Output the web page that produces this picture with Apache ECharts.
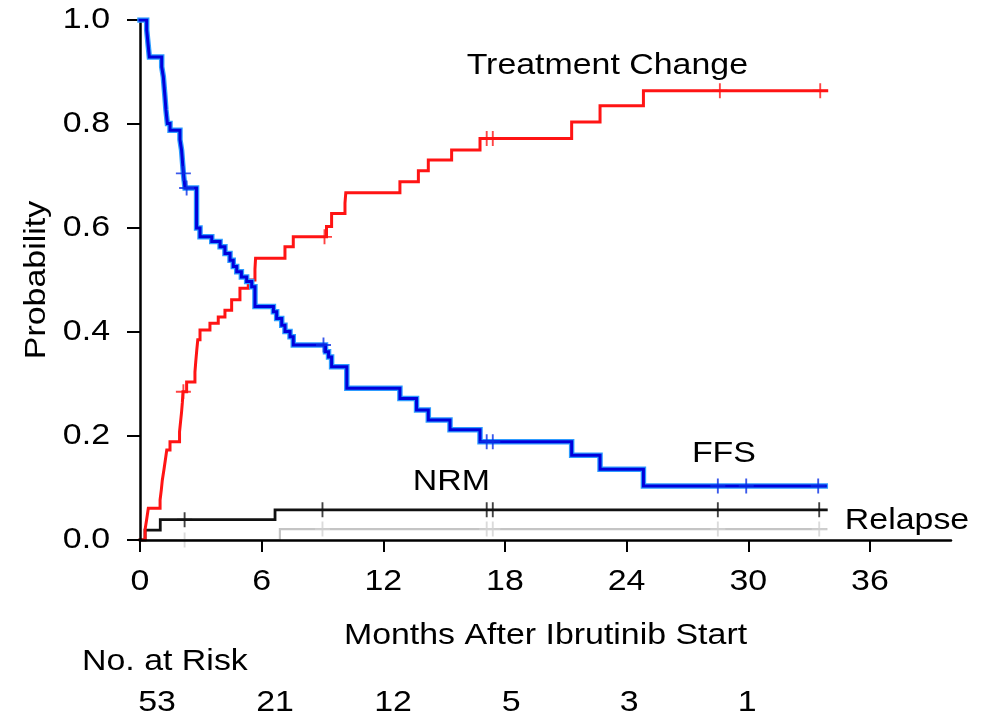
<!DOCTYPE html>
<html>
<head>
<meta charset="utf-8">
<script src="https://cdn.jsdelivr.net/npm/echarts@6/dist/echarts.min.js"></script>
<style>
  html, body { margin: 0; padding: 0; background: #fff; }
  #chart { width: 992px; height: 718px; }
</style>
</head>
<body>
<div id="chart"></div>
<script>
// Freedom from failure (FFS), cumulative incidence of treatment change,
// non-relapse mortality (NRM) and relapse after ibrutinib start.
const xTicks = [0, 6, 12, 18, 24, 30, 36];
const yTicks = [0, 0.2, 0.4, 0.6, 0.8, 1.0];

const ffsTime = [0, 0.33, 0.41, 0.46, 1.07, 1.15, 1.23, 1.28, 1.35, 1.48,
  1.97, 2.05, 2.14, 2.22, 2.79, 2.96, 3.54, 3.95, 4.19, 4.44,
  4.6, 4.77, 5.0, 5.26, 5.51, 5.67, 6.58, 6.74, 6.99, 7.15,
  7.4, 7.56, 9.15, 9.3, 9.45, 10.2, 12.82, 13.64, 14.22, 15.29,
  16.77, 21.29, 22.69, 24.83, 33.8];
const ffsProb = [1.0, 0.981, 0.949, 0.929, 0.91, 0.891, 0.853, 0.827, 0.801, 0.788,
  0.77, 0.75, 0.705, 0.677, 0.6, 0.583, 0.574, 0.564, 0.551, 0.538,
  0.526, 0.516, 0.506, 0.497, 0.487, 0.449, 0.439, 0.426, 0.413, 0.401,
  0.391, 0.375, 0.362, 0.352, 0.333, 0.292, 0.272, 0.25, 0.231, 0.212,
  0.189, 0.163, 0.136, 0.104, 0.104];
const ffsCensor = [2.14, 2.3, 9.05, 17.1, 17.4, 28.5, 29.9, 33.45];

const tcTime = [0, 0.25, 0.33, 0.41, 0.99, 1.05, 1.1, 1.18, 1.25, 1.32,
  1.48, 1.95, 2.0, 2.05, 2.09, 2.12, 2.3, 2.71, 2.75, 2.8,
  2.85, 2.96, 3.45, 3.86, 4.19, 4.52, 4.93, 5.34, 5.67, 5.7,
  7.15, 7.56, 9.2, 9.45, 10.11, 10.15, 12.82, 13.73, 14.22, 15.37,
  16.77, 21.29, 22.69, 24.83, 33.87];
const tcProb = [0, 0.02, 0.04, 0.061, 0.077, 0.096, 0.115, 0.135, 0.154, 0.173,
  0.189, 0.208, 0.227, 0.246, 0.265, 0.285, 0.304, 0.323, 0.343, 0.365,
  0.385, 0.404, 0.417, 0.429, 0.442, 0.462, 0.484, 0.5, 0.521, 0.542,
  0.564, 0.583, 0.603, 0.628, 0.648, 0.668, 0.689, 0.71, 0.731, 0.75,
  0.772, 0.804, 0.835, 0.864, 0.864];
const tcCensor = [2.14, 9.1, 17.1, 17.4, 28.6, 33.55];

const nrmTime = [0, 0.25, 1.0, 6.66, 33.85];
const nrmProb = [0, 0.019, 0.039, 0.058, 0.058];
const nrmCensor = [2.2, 9.0, 17.1, 17.4, 28.5, 33.5];

const relapseTime = [0, 6.9, 33.85];
const relapseProb = [0, 0.021, 0.021];
const relapseCensor = [2.2, 9.0, 17.1, 17.4, 28.5, 33.5];

const riskTimes = [0, 6, 12, 18, 24, 30];
const riskCounts = [53, 21, 12, 5, 3, 1];

const FONT = '"Liberation Sans", Arial, Helvetica, sans-serif';
const PLUS = 'path://M0,7L16,7L16,9L0,9Z M7,0L9,0L9,16L7,16Z';

function pairs(ts, vs) { return ts.map((t, i) => [t, vs[i]]); }
function stepValue(ts, vs, t) {
  let v = vs[0];
  for (let i = 0; i < ts.length; i++) { if (ts[i] <= t) v = vs[i]; }
  return v;
}
function censorPoints(ts, vs, cs) { return cs.map(c => [c, stepValue(ts, vs, c)]); }

function stepLine(name, ts, vs, color, width, z) {
  return {
    name, type: 'line', step: 'end', data: pairs(ts, vs),
    showSymbol: false, silent: true, z,
    lineStyle: { color, width, cap: 'square', join: 'miter' }
  };
}
function marks(ts, vs, cs, color, z) {
  return {
    type: 'scatter', data: censorPoints(ts, vs, cs), symbol: PLUS,
    symbolSize: 15, silent: true, z,
    itemStyle: { color }
  };
}

const chart = echarts.init(document.getElementById('chart'), null, { renderer: 'canvas' });

chart.setOption({
  animation: false,
  backgroundColor: '#ffffff',
  grid: { left: 140, right: 41, top: 20, bottom: 178 },
  xAxis: {
    type: 'value', min: 0, max: 40, z: 5,
    axisLine: { show: true, onZero: false, lineStyle: { color: '#000', width: 2.5 } },
    axisTick: { show: true, length: 12, customValues: xTicks, lineStyle: { color: '#000', width: 2 } },
    axisLabel: { show: false },
    splitLine: { show: false }
  },
  yAxis: {
    type: 'value', min: 0, max: 1, interval: 0.2, z: 5,
    axisLine: { show: true, onZero: false, lineStyle: { color: '#000', width: 2.5 } },
    axisTick: { show: true, length: 13, lineStyle: { color: '#000', width: 2 } },
    axisLabel: { show: false },
    splitLine: { show: false }
  },
  series: [
    stepLine('Relapse', relapseTime, relapseProb, '#c4c4c4', 2.2, 2),
    marks(relapseTime, relapseProb, relapseCensor, '#d2d2d2', 2),
    stepLine('NRM', nrmTime, nrmProb, '#111111', 2.8, 3),
    marks(nrmTime, nrmProb, nrmCensor, '#111111', 3),
    stepLine('Treatment Change', tcTime, tcProb, '#ff1414', 3, 4),
    marks(tcTime, tcProb, tcCensor, '#ff1414', 4),
    stepLine('FFS halo', ffsTime, ffsProb, '#2e9cff', 5.5, 6),
    stepLine('FFS', ffsTime, ffsProb, '#0000dc', 3, 7),
    marks(ffsTime, ffsProb, ffsCensor, '#0a2fe6', 7)
  ]
});

// Tick labels, curve labels and the risk table, placed through the axis scales
const px = (t, v) => chart.convertToPixel({ gridIndex: 0 }, [t, v]);
const SX = 1.13;
const DY = 2;
function label(text, x, y, align, extra) {
  return Object.assign({
    type: 'text', x, y: y + DY, scaleX: SX, z: 10, silent: true,
    style: { text, font: '30px ' + FONT, fill: '#000', align: align || 'center', verticalAlign: 'middle' }
  }, extra || {});
}
const origin = px(0, 0);
const graphics = [];

xTicks.forEach(t => {
  const q = px(t, 0);
  graphics.push(label(String(t), q[0], q[1] + 40));
});
yTicks.forEach(v => {
  const q = px(0, v);
  graphics.push(label(v.toFixed(1), q[0] - 30, q[1] - DY, 'right'));
});

let p = px(23.05, 0.915); graphics.push(label('Treatment Change', p[0], p[1]));
p = px(28.8, 0.17); graphics.push(label('FFS', p[0], p[1]));
p = px(15.36, 0.115); graphics.push(label('NRM', p[0], p[1]));
p = px(37.83, 0.04); graphics.push(label('Relapse', p[0], p[1]));
p = px(20, 0); graphics.push(label('Months After Ibrutinib Start', p[0], p[1] + 94));
p = px(0, 0.5); graphics.push(label('Probability', p[0] - 103, p[1] - DY, 'center', { rotation: Math.PI / 2 }));
graphics.push(label('No. at Risk', origin[0] - 58, origin[1] + 120, 'left'));
// risk-table columns sit slightly right of their ticks, drifting left along the axis
riskTimes.forEach((t, i) => {
  const q = px(t, 0);
  graphics.push(label(String(riskCounts[i]), q[0] + 17 - 0.6 * t, q[1] + 161));
});
chart.setOption({ graphic: graphics });
</script>
</body>
</html>
